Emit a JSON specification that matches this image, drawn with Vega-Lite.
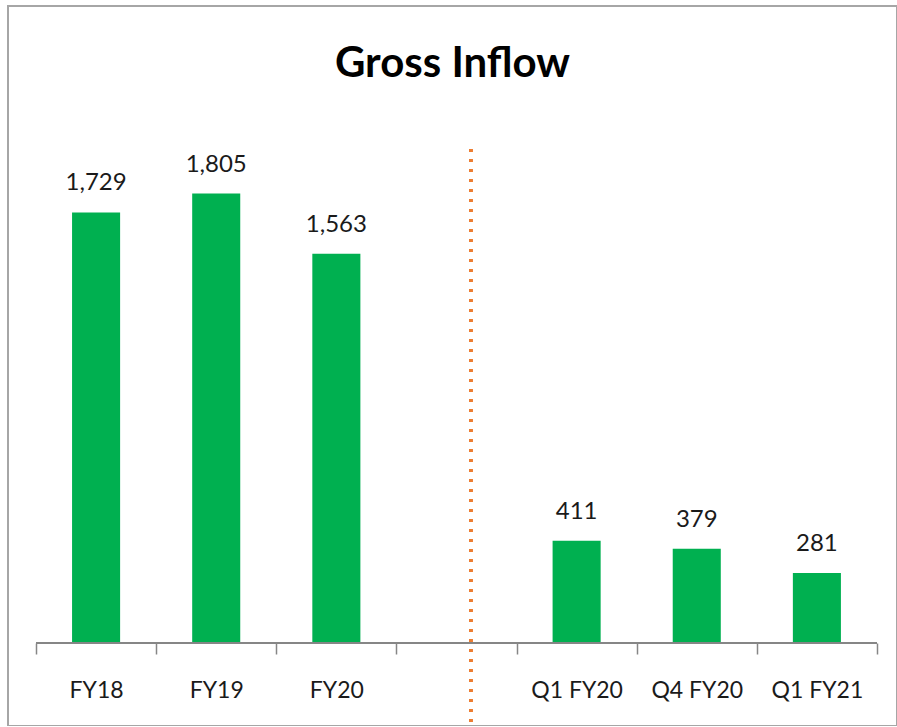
{
  "$schema": "https://vega.github.io/schema/vega-lite/v6.json",
  "width": 889,
  "height": 720,
  "autosize": {"type": "none"},
  "padding": {"left": 8, "top": 6, "right": 0, "bottom": 0},
  "config": {
    "view": {"stroke": "#a6a6a6", "strokeWidth": 2},
    "font": "Lato"
  },
  "title": {
    "text": "Gross Inflow",
    "font": "Lato",
    "fontSize": 42,
    "fontWeight": "bold",
    "color": "#000000",
    "anchor": "middle",
    "frame": "group",
    "baseline": "alphabetic",
    "offset": -113
  },
  "data": {
    "values": [
      {"period": "FY18", "inflow": 1729},
      {"period": "FY19", "inflow": 1805},
      {"period": "FY20", "inflow": 1563},
      {"period": " ", "inflow": null},
      {"period": "Q1 FY20", "inflow": 411},
      {"period": "Q4 FY20", "inflow": 379},
      {"period": "Q1 FY21", "inflow": 281}
    ]
  },
  "encoding": {
    "x": {
      "field": "period",
      "type": "nominal",
      "sort": null,
      "scale": {
        "domain": ["FY18", "FY19", "FY20", " ", "Q1 FY20", "Q4 FY20", "Q1 FY21"],
        "paddingInner": 0,
        "paddingOuter": 0.2,
        "align": 0.583
      },
      "axis": {
        "title": null,
        "domain": false,
        "tickBand": "extent",
        "tickSize": 11,
        "tickColor": "#868686",
        "tickWidth": 1.5,
        "labelAngle": 0,
        "labelFont": "Lato",
        "labelFontSize": 23,
        "labelColor": "#1a1a1a",
        "labelBaseline": "alphabetic",
        "labelPadding": 43,
        "offset": -83
      }
    },
    "y": {
      "field": "inflow",
      "type": "quantitative",
      "scale": {"domain": [-333, 2558], "nice": false, "zero": false},
      "axis": null
    }
  },
  "layer": [
    {
      "mark": {"type": "bar", "color": "#00B050", "width": {"band": 0.4}}
    },
    {
      "mark": {"type": "text", "fontSize": 24, "font": "Lato", "color": "#1a1a1a", "baseline": "alphabetic", "dy": -22},
      "encoding": {"text": {"field": "inflow", "type": "quantitative", "format": ","}}
    },
    {
      "mark": {"type": "rule", "color": "#868686", "strokeWidth": 1.5},
      "encoding": {
        "x": {"datum": "FY18", "bandPosition": 0},
        "x2": {"datum": "Q1 FY21", "bandPosition": 1},
        "y": {"datum": 0}
      }
    },
    {
      "mark": {"type": "rule", "color": "#ED7D31", "strokeWidth": 3, "strokeDash": [3, 7]},
      "encoding": {
        "x": {"datum": " ", "bandPosition": 0.62},
        "y": {"datum": 1984},
        "y2": {"datum": -340}
      }
    }
  ]
}
